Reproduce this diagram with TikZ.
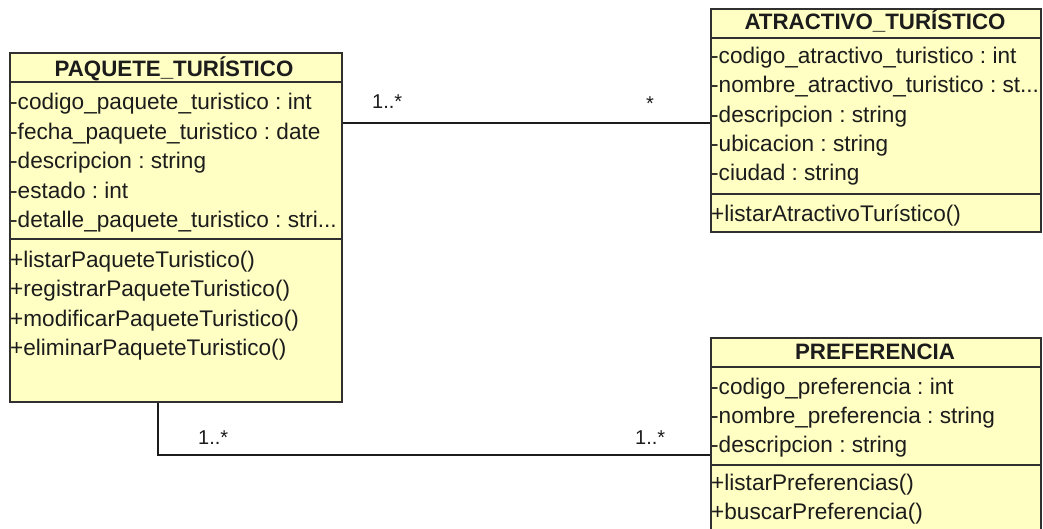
\documentclass[tikz,border=0pt]{standalone}
\usepackage{fontspec}
\setmainfont{Liberation Sans}
\frenchspacing
\definecolor{classfill}{HTML}{FFFFC4}
\definecolor{boxline}{HTML}{303030}
\definecolor{ink}{HTML}{1C1C1C}
\newcommand{\memberfont}{\fontsize{22.6}{26}\selectfont}
\newcommand{\titlefont}{\fontsize{22.3}{26}\selectfont\bfseries}
\newcommand{\multfont}{\fontsize{20}{24}\selectfont}
\tikzset{
  classbox/.style={draw=boxline, line width=1.8pt, fill=classfill, inner sep=0pt, anchor=north west},
  sepline/.style={draw=boxline, line width=1.5pt},
  member/.style={anchor=base west, inner sep=0pt, font=\memberfont, text=ink},
  classtitle/.style={anchor=base, inner sep=0pt, font=\titlefont, text=ink},
  assoc/.style={draw=ink, line width=1.5pt},
  mult/.style={anchor=base west, inner sep=0pt, font=\multfont, text=ink}
}
\begin{document}
\begin{tikzpicture}[x=1pt,y=-1pt]
\useasboundingbox (0,0) rectangle (1043,528);
\clip (0,0) rectangle (1043,528);

% ---- PAQUETE_TURISTICO ----
\node[classbox, minimum width=332pt, minimum height=349pt] (paq) at (9,52) {};
\draw[sepline] (paq.west |- 0,82) -- (paq.east |- 0,82);
\draw[sepline] (paq.west |- 0,239) -- (paq.east |- 0,239);
\node[classtitle] (paqT) at (174,76) {PAQUETE\_TURÍSTICO};
\node[member] (paqA1) at (10,109) {-codigo\_paquete\_turistico : int};
\node[member] (paqA2) at (10,139) {-fecha\_paquete\_turistico : date};
\node[member] (paqA3) at (10,168) {-descripcion : string};
\node[member] (paqA4) at (10,198) {-estado : int};
\node[member] (paqA5) at (10,227) {-detalle\_paquete\_turistico : stri...};
\node[member] (paqM1) at (10,267) {+listarPaqueteTuristico()};
\node[member] (paqM2) at (10,296) {+registrarPaqueteTuristico()};
\node[member] (paqM3) at (10,326) {+modificarPaqueteTuristico()};
\node[member] (paqM4) at (10,355) {+eliminarPaqueteTuristico()};

% ---- ATRACTIVO_TURISTICO ----
\node[classbox, minimum width=330pt, minimum height=223pt] (atr) at (710,8) {};
\draw[sepline] (atr.west |- 0,38) -- (atr.east |- 0,38);
\draw[sepline] (atr.west |- 0,194) -- (atr.east |- 0,194);
\node[classtitle] (atrT) at (875,29) {ATRACTIVO\_TURÍSTICO};
\node[member] (atrA1) at (711,63) {-codigo\_atractivo\_turistico : int};
\node[member] (atrA2) at (711,92) {-nombre\_atractivo\_turistico : st...};
\node[member] (atrA3) at (711,122) {-descripcion : string};
\node[member] (atrA4) at (711,151) {-ubicacion : string};
\node[member] (atrA5) at (711,180) {-ciudad : string};
\node[member] (atrM1) at (711,221) {+listarAtractivoTurístico()};

% ---- PREFERENCIA ----
\node[classbox, minimum width=330pt, minimum height=220pt] (pref) at (710,337) {};
\draw[sepline] (pref.west |- 0,367) -- (pref.east |- 0,367);
\draw[sepline] (pref.west |- 0,465) -- (pref.east |- 0,465);
\node[classtitle] (prefT) at (875,359) {PREFERENCIA};
\node[member] (prefA1) at (711,394) {-codigo\_preferencia : int};
\node[member] (prefA2) at (711,423) {-nombre\_preferencia : string};
\node[member] (prefA3) at (711,452) {-descripcion : string};
\node[member] (prefM1) at (711,490) {+listarPreferencias()};
\node[member] (prefM2) at (711,519) {+buscarPreferencia()};

% ---- associations ----
\coordinate (paqR) at (paq.east |- 0,123);
\coordinate (atrL) at (atr.west |- 0,123);
\draw[assoc] (paqR) -- (atrL);
\node[mult] (m1) at (372,108) {1..*};
\node[mult] (m2) at (646,110) {*};

\coordinate (paqB) at (paq.south -| 158,0);
\coordinate (bend) at (158,455);
\coordinate (prefL) at (pref.west |- 0,455);
\draw[assoc] (paqB) -- (bend) -- (prefL);
\node[mult] (m3) at (198,444) {1..*};
\node[mult] (m4) at (635,444) {1..*};
\end{tikzpicture}
\end{document}
